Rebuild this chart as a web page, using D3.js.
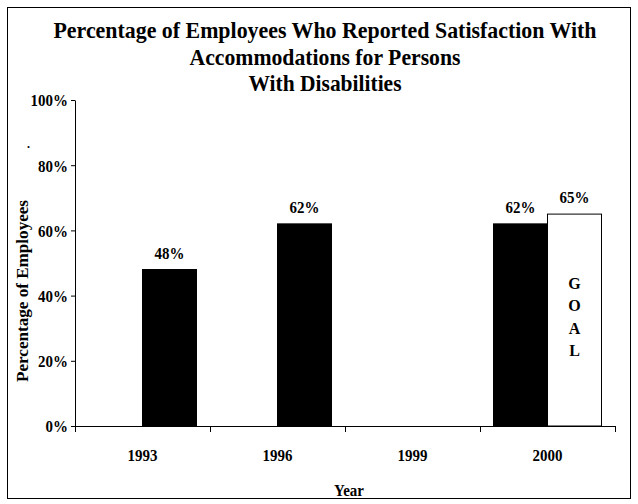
<!DOCTYPE html>
<html><head><meta charset="utf-8">
<script src="https://cdn.jsdelivr.net/npm/d3@7"></script>
<style>body{margin:0;background:#fff}svg{display:block}</style>
</head><body><svg id="c" width="638" height="504" font-family="'Liberation Serif', 'Times New Roman', Times, serif" font-weight="bold"></svg>
<script>
const titleLines = ["Percentage of Employees Who Reported Satisfaction With","Accommodations for Persons","With Disabilities"];
const categories = ["1993","1996","1999","2000"];
const seriesNames = ["s1","s2"];
// s1: left slot (only 2000 actual), s2: right slot (earlier years + goal)
const s1Values = [null, null, null, 62];
const s2Values = [48, 62, null, 65];
const goalFlags = [false, false, false, true];
const yTicks = [0,20,40,60,80,100];
const goalText = ["G","O","A","L"];
const yTitle = "Percentage of Employees";
const xTitle = "Year";

const svg = d3.select("#c");
svg.append("rect").attr("x",7.5).attr("y",7.5).attr("width",623).attr("height",491)
  .attr("fill","none").attr("stroke","#000").attr("stroke-width",1);

const L=75, R=615, T=100, B=426;
const x0 = d3.scaleBand().domain(categories).range([L,R]).paddingInner(0).paddingOuter(0);
const x1 = d3.scaleBand().domain(seriesNames).range([0,x0.bandwidth()]).paddingInner(0).paddingOuter(0.25);
const y = d3.scaleLinear().domain([0,100]).range([B,T]);

function txt(sel){ return sel.attr("font-family","'Liberation Serif', 'Times New Roman', Times, serif").attr("font-weight","bold").attr("fill","#000"); }
// taller, condensed glyphs like the reference
function condense(sel, f){ sel.each(function(){ const w=this.getComputedTextLength(); d3.select(this).attr("textLength",w*f).attr("lengthAdjust","spacingAndGlyphs"); }); return sel; }

// title
const tw=[543,271,153], tb=[38,65,91];
titleLines.forEach((t,i)=>{
  txt(svg.append("text")).attr("x",325).attr("y",tb[i]).attr("text-anchor","middle")
    .attr("font-size",23.5).attr("textLength",tw[i]).attr("lengthAdjust","spacingAndGlyphs").text(t);
});

// y axis
const ya = svg.append("g").attr("transform",`translate(${L},0)`)
  .call(d3.axisLeft(y).tickValues(yTicks).tickFormat(d=>d+"%").tickSize(4).tickSizeOuter(0));
ya.attr("font-family",null).attr("font-size",null);
ya.select(".domain").attr("stroke","#000");
condense(txt(ya.selectAll("text")).attr("font-size",17).attr("x",-7).attr("dy","0.35em"),0.88);
// x axis
const xa = svg.append("g").attr("transform",`translate(0,${B})`)
  .call(d3.axisBottom(x0).tickSize(0).tickSizeOuter(0));
xa.attr("font-family",null).attr("font-size",null);
xa.select(".domain").attr("stroke","#000");
condense(txt(xa.selectAll("text")).attr("font-size",17).attr("dy",0).attr("y",35),0.88);
const bounds = categories.map(c=>x0(c)).concat([R]);
xa.selectAll("line.sep").data(bounds).enter().append("line").attr("class","sep")
  .attr("x1",d=>d+0.5).attr("x2",d=>d+0.5).attr("y1",0).attr("y2",6).attr("stroke","#000");

// bars
const rows = categories.map((c,i)=>({c, s1:s1Values[i], s2:s2Values[i], goal:goalFlags[i]}));
const bars=[];
rows.forEach(r=>{
  if(r.s1!=null) bars.push({c:r.c,s:"s1",v:r.s1,goal:false});
  if(r.s2!=null) bars.push({c:r.c,s:"s2",v:r.s2,goal:r.goal});
});
svg.selectAll("rect.bar").data(bars).enter().append("rect").attr("class","bar")
  .attr("x",d=>x0(d.c)+x1(d.s)).attr("width",x1.bandwidth())
  .attr("y",d=>y(d.v)).attr("height",d=>B-y(d.v))
  .attr("fill",d=>d.goal?"#fff":"#000").attr("stroke","#000").attr("stroke-width",1);
condense(txt(svg.selectAll("text.val").data(bars).enter().append("text").attr("class","val"))
  .attr("x",d=>x0(d.c)+x1(d.s)+x1.bandwidth()/2).attr("y",d=>y(d.v)-11)
  .attr("text-anchor","middle").attr("font-size",17).text(d=>d.v+"%"),0.88);
// GOAL
const gb = bars.find(d=>d.goal);
goalText.forEach((g,i)=>{
  txt(svg.append("text")).attr("x",x0(gb.c)+x1(gb.s)+x1.bandwidth()/2).attr("y",289+i*22.3)
    .attr("text-anchor","middle").attr("font-size",16).text(g);
});

// axis titles
txt(svg.append("text")).attr("transform",`translate(28,291) rotate(-90)`).attr("text-anchor","middle")
  .attr("font-size",17).attr("textLength",182).attr("lengthAdjust","spacingAndGlyphs").text(yTitle);
condense(txt(svg.append("text")).attr("x",(L+R)/2+4).attr("y",496).attr("text-anchor","middle").attr("font-size",17).text(xTitle),0.88);
txt(svg.append("text")).attr("x",27).attr("y",148).attr("font-size",12).text(".");
</script></body></html>
